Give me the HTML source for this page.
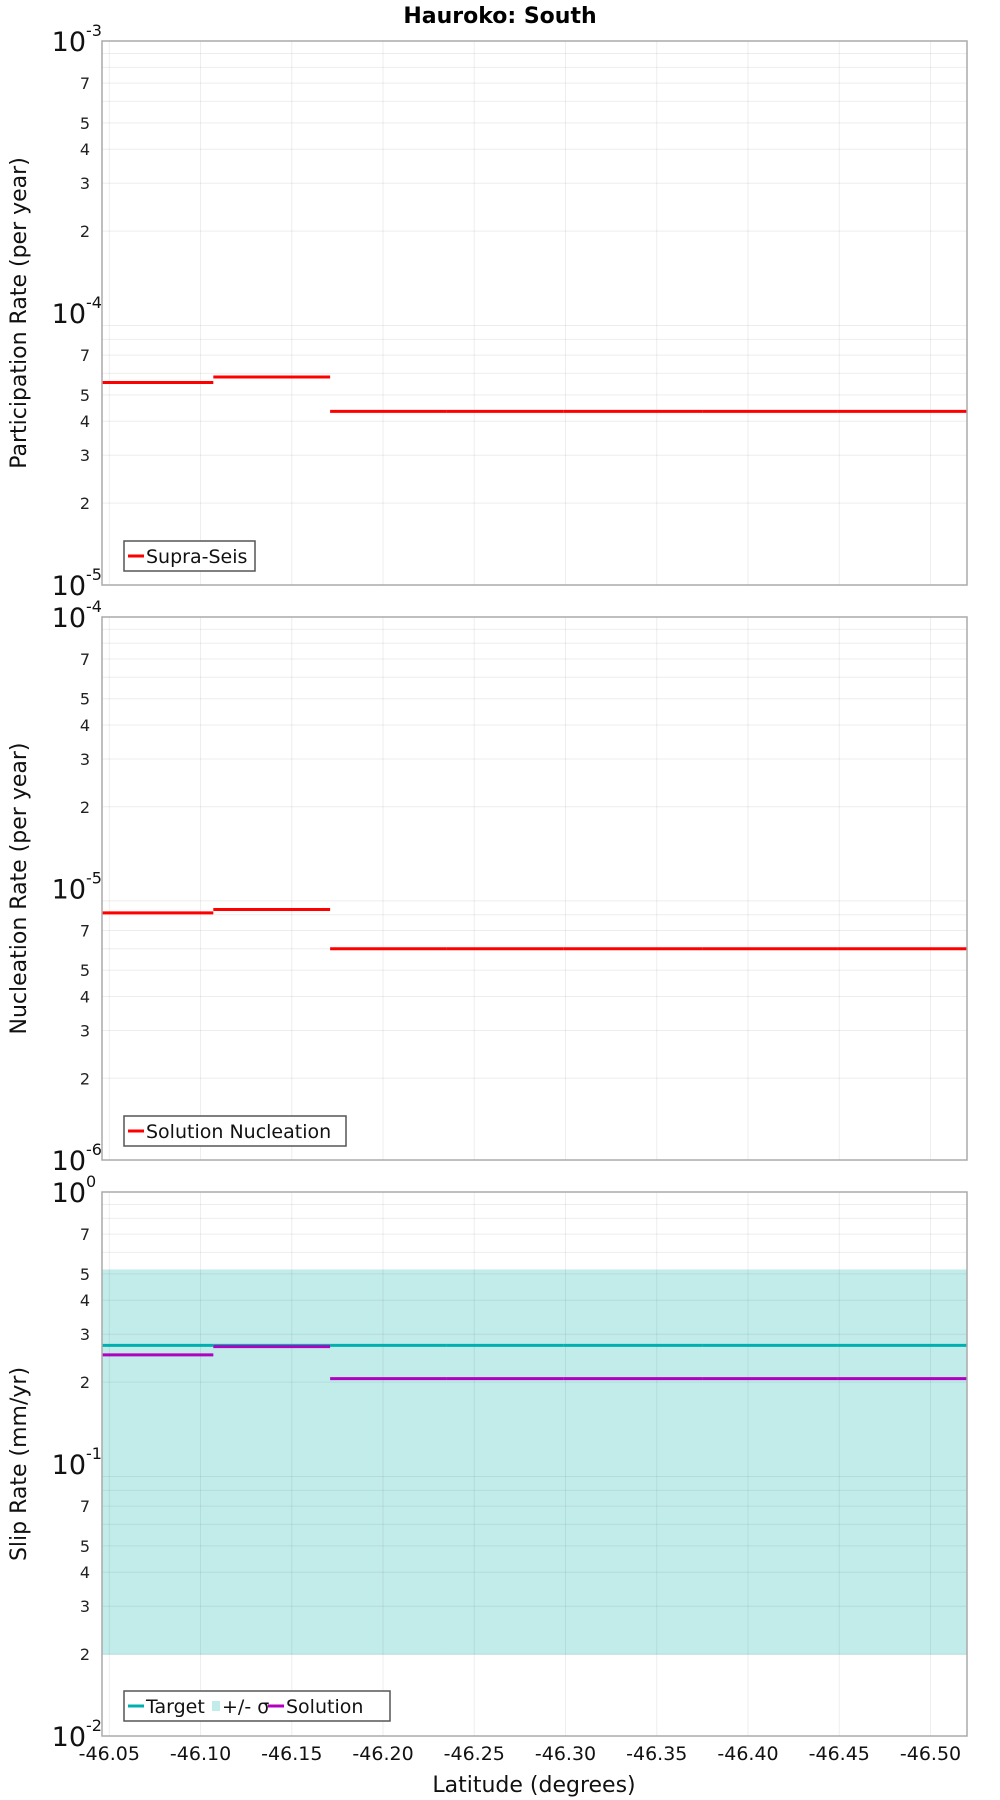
<!DOCTYPE html>
<html><head><meta charset="utf-8"><style>
html,body{margin:0;padding:0;background:#fff;}
svg{display:block;font-family:"DejaVu Sans","Liberation Sans",sans-serif;}
</style></head><body>
<svg id="chart" width="1000" height="1800" viewBox="0 0 1000 1800" xmlns="http://www.w3.org/2000/svg">
<text x="500" y="23" text-anchor="middle" font-size="22" font-weight="bold" font-family="DejaVu Sans, sans-serif">Hauroko: South</text>
</svg>
<script>
// ---- data ----
const breaks = [-46.046, -46.107, -46.171, -46.235, -46.299, -46.375, -46.449, -46.52];
const supraSeis = [5.55e-5, 5.82e-5, 4.35e-5, 4.35e-5, 4.35e-5, 4.35e-5, 4.35e-5];
const nucleation = [8.13e-6, 8.37e-6, 6.0e-6, 6.0e-6, 6.0e-6, 6.0e-6, 6.0e-6];
const slipTarget = [0.273, 0.273, 0.273, 0.273, 0.273, 0.273, 0.273];
const slipUpper = [0.519, 0.519, 0.519, 0.519, 0.519, 0.519, 0.519];
const slipLower = [0.0199, 0.0199, 0.0199, 0.0199, 0.0199, 0.0199, 0.0199];
const slipSolution = [0.252, 0.270, 0.206, 0.206, 0.206, 0.206, 0.206];
const xTicks = [-46.05, -46.10, -46.15, -46.20, -46.25, -46.30, -46.35, -46.40, -46.45, -46.50];
const xTickLabels = ["-46.05","-46.10","-46.15","-46.20","-46.25","-46.30","-46.35","-46.40","-46.45","-46.50"];
const yLabeledMinors = [2,3,4,5,7];

const svg = document.getElementById('chart');
const NS = 'http://www.w3.org/2000/svg';
function mk(tag, attrs, parent){const e=document.createElementNS(NS,tag);for(const k in attrs)e.setAttribute(k,attrs[k]);(parent||svg).appendChild(e);return e;}
const L=102, R=967;
const xMin=-46.046, xMax=-46.52;
function X(v){return L + (v - xMin)/(xMax - xMin)*(R-L);}

const panels = [
 {top:41,bot:585,minExp:-5,maxExp:-3,title:'Participation Rate (per year)',name:'participation'},
 {top:617,bot:1160,minExp:-6,maxExp:-4,title:'Nucleation Rate (per year)',name:'nucleation'},
 {top:1192,bot:1736,minExp:-2,maxExp:0,title:'Slip Rate (mm/yr)',name:'slip'}
];
function Yf(p){return v => p.bot - (Math.log10(v) - p.minExp)/(p.maxExp-p.minExp)*(p.bot-p.top);}

function segs(g, values, Y, color, w, nm){
  for(let i=0;i<values.length;i++){
    const l=mk('line',{x1:X(breaks[i]),x2:X(breaks[i+1]),y1:Y(values[i]),y2:Y(values[i]),stroke:color,'stroke-width':w},g);
    
    
  }
}

panels.forEach((p,pi)=>{
  const Y=Yf(p);
  const g=mk('g',{});
  
  
  if(pi===2){
    for(let i=0;i<slipUpper.length;i++){
      const r=mk('rect',{x:X(breaks[i]),y:Y(slipUpper[i]),width:X(breaks[i+1])-X(breaks[i])+0.5,height:Y(slipLower[i])-Y(slipUpper[i]),fill:'#c2ecea'},g);
      
      
    }
  }
  for(let e=p.minExp;e<p.maxExp;e++){
    for(let m=1;m<=9;m++){
      const v=m*Math.pow(10,e); const y=Y(v);
      if(m>1){const gl=mk('line',{x1:L,x2:R,y1:y,y2:y,stroke:'rgba(0,0,0,0.07)','stroke-width':1},g);
        }
      if(yLabeledMinors.includes(m)){
        const t=mk('text',{x:L-12,y:y+6,'text-anchor':'end','font-size':16,fill:'#222'},g);
        t.textContent=m;
        
      }
    }
  }
  for(let e=p.minExp;e<=p.maxExp;e++){
    const y=Y(Math.pow(10,e));
    const t=mk('text',{x:L-16,y:y+10,'text-anchor':'end','font-size':27,fill:'#111'},g);
    t.textContent='10';
    
    const s=mk('text',{x:L-16,y:y-5,'text-anchor':'start','font-size':16,fill:'#111'},g);
    s.textContent=String(e);
    
  }
  xTicks.forEach(v=>{
    const gl=mk('line',{x1:X(v),x2:X(v),y1:p.top,y2:p.bot,stroke:'rgba(0,0,0,0.07)','stroke-width':1},g);
    
  });
  if(pi===0) segs(g,supraSeis,Y,'#ff0000',3,'supra-seis');
  if(pi===1) segs(g,nucleation,Y,'#ff0000',3,'solution-nucleation');
  if(pi===2){ segs(g,slipTarget,Y,'#00b0b0',3,'target'); segs(g,slipSolution,Y,'#b000c0',3,'solution'); }
  const fr=mk('rect',{x:L,y:p.top,width:R-L,height:p.bot-p.top,fill:'none',stroke:'#aaa','stroke-width':1.5},g);
  
  const cy=(p.top+p.bot)/2;
  const yt=mk('text',{x:26,y:cy,'text-anchor':'middle','font-size':22,fill:'#111',transform:`rotate(-90 26 ${cy})`},g);
  yt.textContent=p.title;
  
});

function legend(y, items, w, nm){
  const g=mk('g',{});
  
  
  mk('rect',{x:124,y:y,width:w,height:30,fill:'#fff',stroke:'#555','stroke-width':1.5},g);
  let x=128;
  items.forEach(it=>{
    if(it.band){mk('rect',{x:x,y:y+10,width:8,height:10,fill:'#c2ecea'},g);x+=10;}
    else{mk('line',{x1:x,x2:x+16,y1:y+15,y2:y+15,stroke:it.color,'stroke-width':3},g);x+=18;}
    const t=mk('text',{x:x,y:y+22,'font-size':19,fill:'#111'},g);
    t.textContent=it.label;
    
    
    x+=it.w;
  });
}
legend(541,[{color:'#ff0000',label:'Supra-Seis',w:100}],131,'legend-participation');
legend(1116,[{color:'#ff0000',label:'Solution Nucleation',w:200}],222,'legend-nucleation');
legend(1691,[{color:'#00b0b0',label:'Target',w:66},{band:true,label:'+/- σ',w:46},{color:'#b000c0',label:'Solution',w:80}],266,'legend-slip');

xTicks.forEach((v,i)=>{
  const t=mk('text',{x:X(v),y:1760,'text-anchor':'middle','font-size':19,fill:'#111'});
  t.textContent=xTickLabels[i];
  
  
});
const xt=mk('text',{x:534,y:1792,'text-anchor':'middle','font-size':22,fill:'#111'});
xt.textContent='Latitude (degrees)';


</script>
</body></html>
